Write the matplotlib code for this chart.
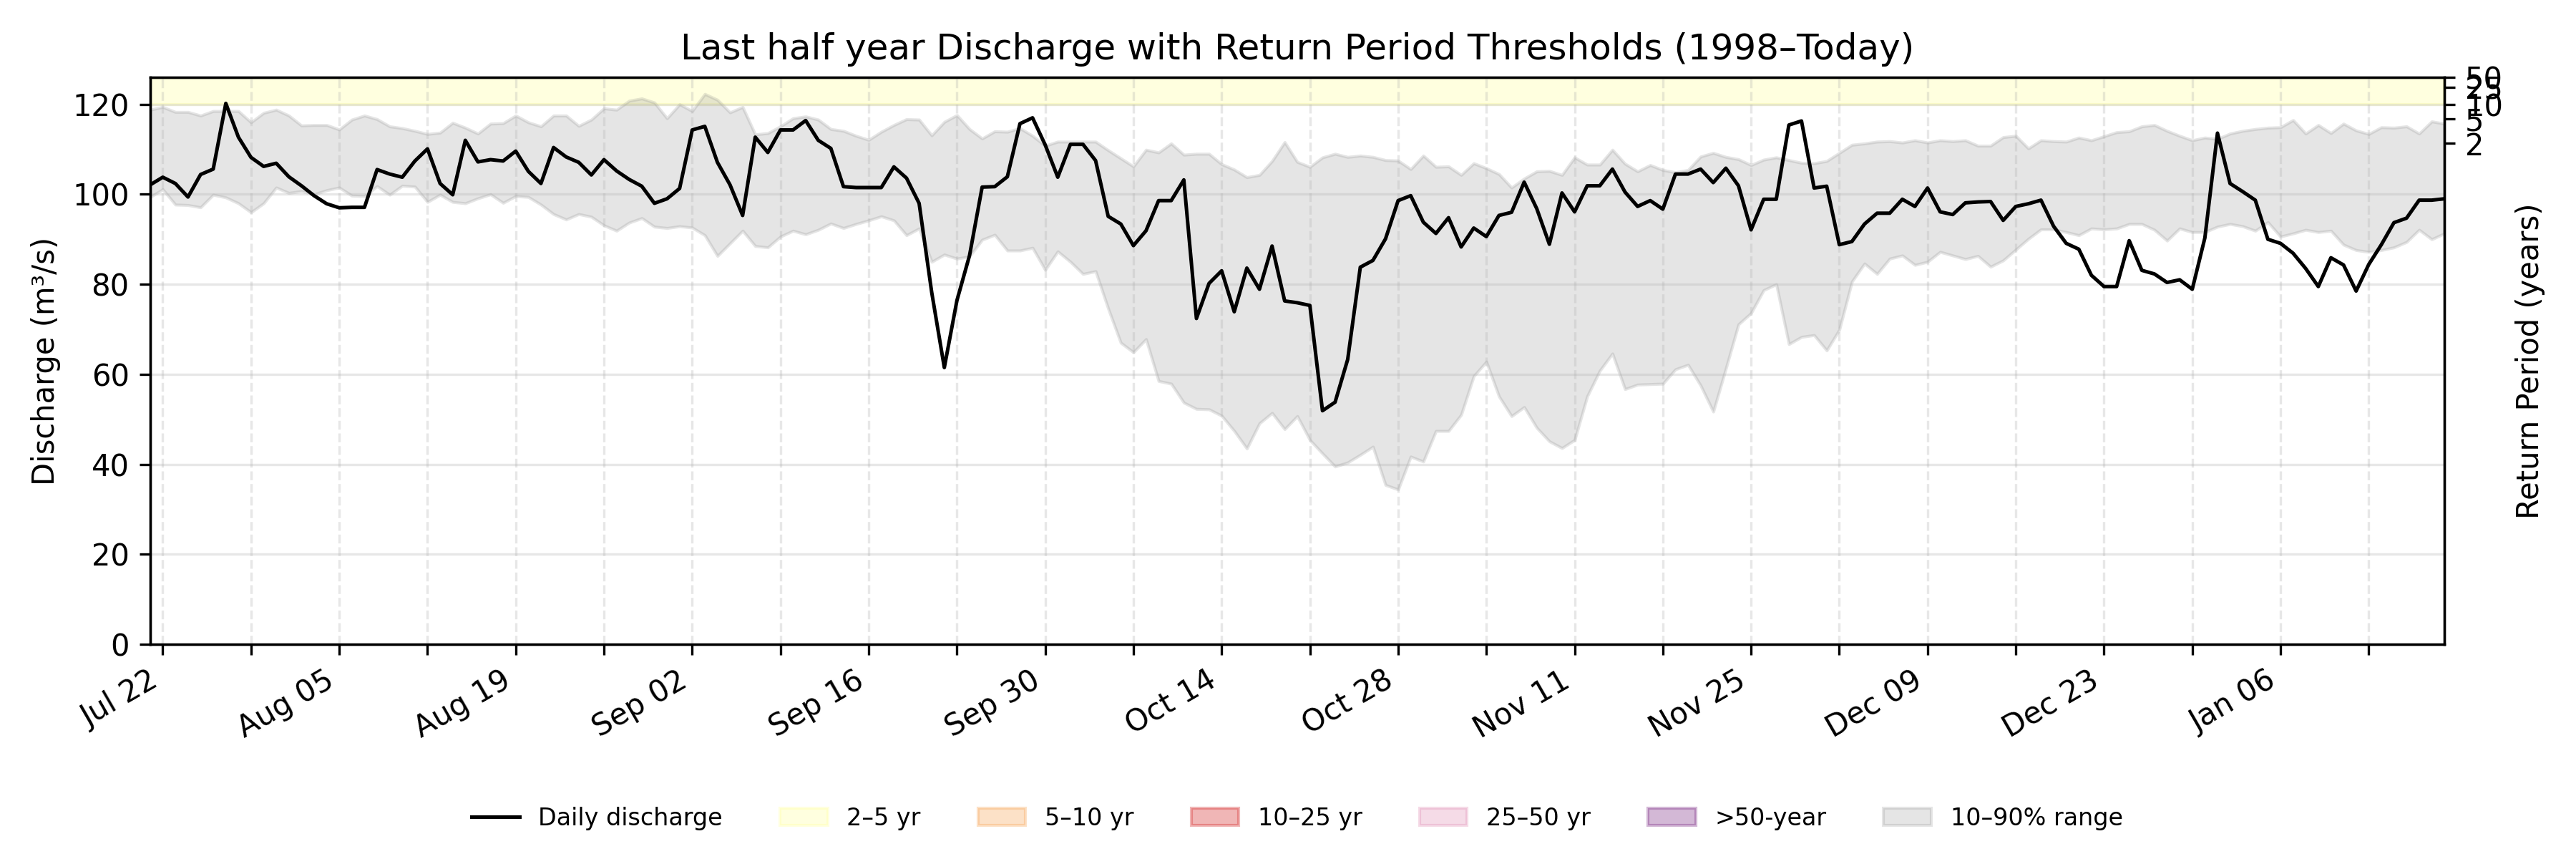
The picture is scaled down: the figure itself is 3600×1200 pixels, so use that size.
import numpy as np
import pandas as pd
import matplotlib
matplotlib.use("Agg")
import matplotlib.pyplot as plt
import matplotlib.dates as mdates

# ---- data ----
start_date = "2024-07-21"

discharge = [
    102.1, 103.8, 102.4, 99.4, 104.4, 105.6, 120.2, 112.7, 108.2, 106.2,
    106.9, 103.9, 101.9, 99.7, 97.9, 97.0, 97.1, 97.1, 105.5, 104.5,
    103.8, 107.4, 110.1, 102.4, 99.9, 112.0, 107.2, 107.7, 107.4, 109.6,
    105.1, 102.4, 110.4, 108.3, 107.1, 104.3, 107.7, 105.2, 103.3, 101.8,
    98.0, 99.0, 101.3, 114.3, 115.1, 107.1, 102.1, 95.3, 112.7, 109.3,
    114.3, 114.3, 116.4, 112.0, 110.2, 101.7, 101.5, 101.5, 101.5, 106.1,
    103.6, 98.0, 78.2, 61.5, 76.4, 86.4, 101.6, 101.7, 103.9, 115.7,
    117.0, 111.0, 103.8, 111.1, 111.1, 107.5, 95.1, 93.4, 88.6, 91.9,
    98.6, 98.6, 103.2, 72.4, 80.2, 83.0, 73.9, 83.6, 78.9, 88.5,
    76.3, 75.9, 75.3, 51.9, 53.8, 63.3, 83.8, 85.3, 90.1, 98.6,
    99.7, 93.8, 91.3, 94.8, 88.3, 92.5, 90.6, 95.3, 96.0, 102.7,
    96.8, 88.9, 100.3, 96.1, 101.9, 101.9, 105.6, 100.5, 97.3, 98.6,
    96.7, 104.5, 104.5, 105.6, 102.6, 105.8, 101.9, 92.1, 98.9, 98.9,
    115.4, 116.3, 101.4, 101.8, 88.8, 89.5, 93.4, 95.8, 95.8, 98.9,
    97.3, 101.4, 96.1, 95.5, 98.1, 98.3, 98.4, 94.2, 97.3, 97.9,
    98.7, 92.9, 89.1, 87.8, 82.0, 79.5, 79.5, 89.7, 83.1, 82.3,
    80.4, 81.0, 78.9, 90.3, 113.6, 102.4, 100.6, 98.7, 90.0, 89.1,
    86.9, 83.5, 79.5, 85.9, 84.3, 78.5, 84.4, 88.8, 93.7, 94.7,
    98.7, 98.7, 99.0,
]

p90 = [
    118.8, 119.4, 118.3, 118.3, 117.5, 118.5, 118.5, 118.5, 116.0, 118.1,
    118.8, 117.5, 115.3, 115.4, 115.4, 114.4, 116.6, 117.5, 116.7, 115.1,
    114.7, 114.1, 113.4, 113.7, 115.9, 114.8, 113.5, 115.7, 115.8, 117.5,
    116.0, 115.1, 117.5, 117.5, 115.2, 116.6, 119.1, 118.8, 120.8, 121.3,
    120.4, 116.9, 120.0, 118.5, 122.3, 121.0, 118.2, 119.4, 113.3, 113.6,
    115.1, 116.9, 117.3, 116.6, 114.5, 114.1, 113.0, 112.1, 113.9, 115.4,
    116.7, 116.6, 113.1, 116.1, 117.6, 114.5, 112.4, 114.0, 113.9, 114.7,
    113.0, 110.8, 111.7, 111.7, 111.7, 111.7, 109.8, 108.0, 106.2, 109.9,
    109.3, 111.3, 108.8, 109.0, 109.0, 106.7, 105.5, 103.8, 104.3, 107.4,
    111.6, 107.2, 106.1, 108.2, 109.0, 108.3, 108.6, 108.3, 107.6, 107.5,
    105.6, 108.6, 106.1, 106.2, 104.3, 106.9, 105.8, 104.5, 101.5, 103.5,
    105.1, 105.2, 104.3, 108.2, 106.6, 106.6, 109.9, 106.8, 105.1, 106.5,
    105.4, 104.9, 105.4, 108.4, 109.2, 108.3, 107.8, 106.5, 107.7, 108.2,
    107.6, 107.0, 106.9, 107.4, 109.2, 111.0, 111.3, 111.7, 111.8, 111.5,
    112.0, 111.5, 112.0, 111.8, 112.0, 110.8, 110.8, 112.7, 113.0, 110.2,
    112.0, 111.8, 111.7, 112.6, 112.0, 112.9, 113.8, 114.0, 115.1, 115.4,
    114.1, 113.0, 112.0, 112.6, 112.3, 113.5, 114.1, 114.5, 114.8, 114.9,
    116.5, 113.5, 115.4, 113.6, 115.7, 114.2, 113.4, 114.9, 114.8, 115.1,
    113.5, 116.2, 115.7,
]

p10 = [
    99.4, 101.1, 97.7, 97.6, 97.1, 99.9, 99.3, 98.0, 96.0, 98.0,
    101.5, 100.3, 100.7, 100.0, 100.9, 101.5, 99.7, 99.6, 101.8, 99.9,
    101.9, 101.7, 98.3, 99.9, 98.3, 98.0, 99.1, 100.0, 98.1, 99.6,
    99.4, 97.7, 95.6, 94.4, 95.6, 95.0, 93.1, 91.9, 93.7, 94.7,
    92.8, 92.5, 92.9, 92.6, 90.9, 86.3, 89.1, 91.9, 88.5, 88.2,
    90.6, 91.9, 91.1, 92.1, 93.5, 92.5, 93.4, 94.2, 95.1, 94.2,
    90.9, 92.4, 85.0, 86.6, 85.7, 86.2, 89.9, 91.0, 87.5, 87.5,
    88.1, 83.2, 87.3, 85.0, 82.3, 82.9, 74.6, 67.0, 64.9, 67.8,
    58.5, 57.9, 53.7, 52.3, 52.2, 50.8, 47.4, 43.5, 49.1, 51.4,
    47.8, 50.7, 45.4, 42.4, 39.5, 40.4, 42.1, 43.9, 35.4, 34.4,
    41.7, 40.6, 47.4, 47.4, 51.0, 59.6, 62.8, 55.1, 50.7, 52.7,
    48.1, 45.1, 43.6, 45.4, 55.1, 60.8, 64.6, 56.7, 57.7, 57.8,
    57.9, 61.1, 62.1, 57.5, 51.7, 61.3, 71.1, 73.6, 78.7, 80.0,
    66.7, 68.3, 68.7, 65.3, 69.9, 80.6, 84.6, 82.3, 85.7, 86.4,
    84.3, 85.0, 87.2, 86.4, 85.6, 86.3, 83.9, 85.3, 87.7, 90.1,
    92.2, 92.2, 91.6, 90.9, 92.4, 92.2, 92.4, 93.4, 93.4, 92.1,
    89.7, 92.4, 91.6, 91.6, 92.8, 93.4, 92.9, 91.9, 93.8, 90.6,
    91.3, 92.1, 91.6, 91.9, 88.8, 87.6, 87.2, 87.6, 88.2, 89.4,
    92.1, 90.0, 91.3,
]

# return period bands (only the lowest one reaches into the view)
band_labels = ["2–5 yr", "5–10 yr", "10–25 yr", "25–50 yr", ">50-year"]
band_lo = [120.0, 135.0, 150.0, 165.0, 180.0]
band_hi = [135.0, 150.0, 165.0, 180.0, 200.0]
band_colors = ["#ffff98", "#f89e48", "#d01010", "#de8ab2", "#6e1478"]

# right axis: return period ticks
rp_years = ["2", "5", "10", "25", "50"]
rp_levels = [111.3, 116.8, 120.0, 123.7, 126.0]
y_top = 126.0

dates = pd.date_range(start_date, periods=len(discharge), freq="D")

fig, ax = plt.subplots(figsize=(12, 4), dpi=300)
fig.subplots_adjust(left=0.0583, right=0.9489, top=0.91, bottom=0.25)

handles = []
ln, = ax.plot(dates, discharge, color="black", lw=1.2, label="Daily discharge", zorder=3)
handles.append(ln)
for lo, hi, c, lab in zip(band_lo, band_hi, band_colors, band_labels):
    h = ax.axhspan(lo, hi, color=c, alpha=0.3, label=lab)
    handles.append(h)
fb = ax.fill_between(dates, p10, p90, color="gray", alpha=0.2, label="10–90% range")
handles.append(fb)

ax.set_ylim(0, y_top)
ax.set_xlim(dates[0], dates[-1])
ax.set_ylabel("Discharge (m³/s)")
ax.set_title("Last half year Discharge with Return Period Thresholds (1998–Today)")

# weekly ticks on Mondays, label every second one
ax.xaxis.set_major_locator(mdates.WeekdayLocator(byweekday=mdates.MO))
ax.xaxis.set_major_formatter(mdates.DateFormatter("%b %d"))
ax.grid(axis="y", alpha=0.3)
ax.grid(axis="x", linestyle="--", alpha=0.3)
fig.canvas.draw()
for i, lab in enumerate(ax.get_xticklabels()):
    lab.set_rotation(30)
    lab.set_ha("right")
    if i % 2 == 1:
        lab.set_visible(False)

ax2 = ax.twinx()
ax2.set_ylim(0, y_top)
ax2.set_yticks(rp_levels)
ax2.set_yticklabels(rp_years)
ax2.set_ylabel("Return Period (years)")

ax.legend(handles=handles, loc="center", bbox_to_anchor=(0.5, -0.307),
          ncol=7, frameon=False, fontsize=8, columnspacing=2.4)

fig.savefig("out.png", dpi=300)
